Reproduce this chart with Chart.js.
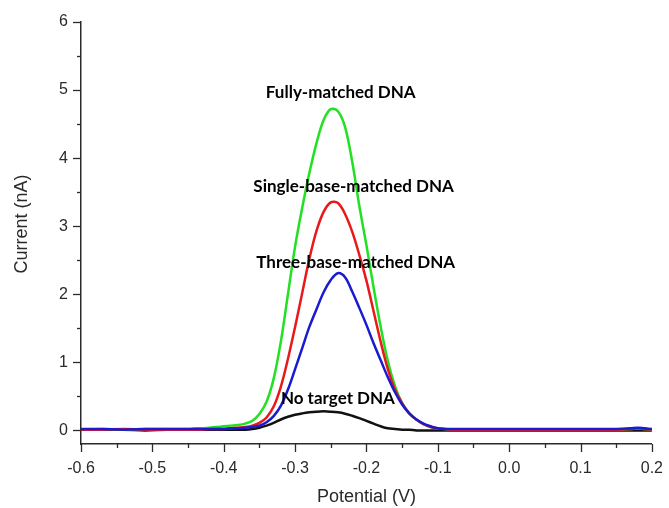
<!DOCTYPE html>
<html>
<head>
<meta charset="utf-8">
<script src="https://cdn.jsdelivr.net/npm/chart.js@4"></script>
<style>
html,body{margin:0;padding:0;background:#fff;}
#wrap{width:669px;height:508px;position:relative;}
</style>
</head>
<body>
<div id="wrap"><canvas id="c" width="669" height="508"></canvas></div>
<script>
// ---- data ----
const potential = [-0.60,-0.57,-0.54,-0.51,-0.48,
  -0.45,-0.44,-0.43,-0.42,-0.41,-0.40,-0.39,-0.38,-0.37,-0.36,-0.35,-0.34,-0.33,-0.32,-0.31,
  -0.30,-0.29,-0.28,-0.27,-0.26,-0.25,-0.24,-0.23,-0.22,-0.21,-0.20,-0.19,-0.18,-0.17,-0.16,
  -0.15,-0.14,-0.13,-0.12,-0.11,-0.10,-0.09,-0.08,
  -0.06,-0.03,0.00,0.04,0.08,0.12,0.15,0.17,0.18,0.19,0.20];

const fullyMatched = [0.01,0.02,0.01,0.02,0.02,
  0.02,0.03,0.03,0.04,0.05,0.06,0.07,0.08,0.10,0.14,0.24,0.42,0.76,1.30,2.00,
  2.70,3.27,3.78,4.22,4.56,4.72,4.69,4.46,3.95,3.30,2.72,2.10,1.52,1.02,0.65,
  0.40,0.25,0.16,0.09,0.05,0.03,0.02,0.01,
  0.01,0.01,0.01,0.01,0.01,0.01,0.01,0.02,0.03,0.02,0.01];

const singleBase = [0.01,0.01,0.02,0.01,0.01,
  0.01,0.01,0.01,0.02,0.02,0.02,0.03,0.04,0.05,0.07,0.11,0.19,0.35,0.64,1.05,
  1.52,2.02,2.52,2.93,3.21,3.35,3.34,3.18,2.92,2.58,2.20,1.75,1.30,0.90,0.60,
  0.40,0.25,0.16,0.09,0.05,0.03,0.02,0.01,
  0.01,0.01,0.01,0.01,0.01,0.01,0.01,0.02,0.03,0.02,0.01];

const threeBase = [0.02,0.02,0.01,0.02,0.02,
  0.02,0.02,0.02,0.02,0.02,0.02,0.03,0.03,0.04,0.05,0.07,0.12,0.21,0.36,0.60,
  0.90,1.21,1.52,1.78,2.03,2.21,2.31,2.25,2.04,1.80,1.55,1.28,1.03,0.78,0.56,
  0.38,0.25,0.16,0.10,0.06,0.03,0.02,0.02,
  0.02,0.02,0.02,0.02,0.02,0.02,0.02,0.03,0.04,0.03,0.02];

const noTarget = [0.01,0.01,0.01,0.00,0.01,
  0.01,0.01,0.01,0.01,0.01,0.01,0.01,0.01,0.01,0.02,0.04,0.07,0.11,0.16,0.20,
  0.23,0.25,0.265,0.275,0.28,0.275,0.265,0.245,0.215,0.18,0.14,0.10,0.06,0.03,0.02,
  0.01,0.01,0.00,0.00,0.00,0.00,0.00,0.00,
  0.00,0.00,0.00,0.00,0.00,0.00,0.00,0.00,0.00,0.00,0.00];

const seriesNames = ['Fully-matched DNA','Single-base-matched DNA','Three-base-matched DNA','No target DNA'];
// label anchor points in data units [potential, current]
const labelAnchorX = [-0.236,-0.218,-0.215,-0.240];
const labelAnchorY = [4.96,3.58,2.47,0.47];

const xTitle = 'Potential (V)';
const yTitle = 'Current (nA)';

// ---- chart ----
function pts(arr){ return potential.map((p,i)=>({x:p,y:arr[i]})); }

const AXIS_COLOR = '#2a2a2a';
const tickPlugin = {
  id:'customTicks',
  afterDraw(chart){
    const ctx = chart.ctx, xs = chart.scales.x, ys = chart.scales.y, a = chart.chartArea;
    ctx.save();
    ctx.strokeStyle = AXIS_COLOR; ctx.lineWidth = 1.3;
    for(let k=0;k<=16;k++){
      const v = -0.6 + k*0.05;
      const px = Math.round(xs.getPixelForValue(v))+0.5;
      const len = (k%2===0)?8:4;
      ctx.beginPath(); ctx.moveTo(px,a.bottom); ctx.lineTo(px,a.bottom+len); ctx.stroke();
    }
    for(let k=0;k<=12;k++){
      const v = k*0.5;
      const py = Math.round(ys.getPixelForValue(v))+0.5;
      const len = (k%2===0)?8:4;
      ctx.beginPath(); ctx.moveTo(a.left,py); ctx.lineTo(a.left-len,py); ctx.stroke();
    }
    // axis titles
    ctx.fillStyle = AXIS_COLOR;
    ctx.font = '18px "Liberation Sans", Arial, sans-serif';
    ctx.textAlign='center'; ctx.textBaseline='middle';
    ctx.fillText(xTitle, (a.left+a.right)/2, 497);
    ctx.save();
    ctx.translate(22, 224); ctx.rotate(-Math.PI/2);
    ctx.fillText(yTitle, 0, 0);
    ctx.restore();
    // curve labels
    ctx.fillStyle = '#000';
    ctx.font = 'bold 17px Lato, "Open Sans", sans-serif';
    for(let i=0;i<seriesNames.length;i++){
      ctx.fillText(seriesNames[i], xs.getPixelForValue(labelAnchorX[i]), ys.getPixelForValue(labelAnchorY[i]));
    }
    ctx.restore();
  }
};

Chart.defaults.font.family = '"Liberation Sans", Arial, sans-serif';
Chart.defaults.color = AXIS_COLOR;

new Chart(document.getElementById('c'), {
  type:'line',
  data:{
    datasets:[
      {label:seriesNames[3], data:pts(noTarget), borderColor:'#111111', order:3},
      {label:seriesNames[0], data:pts(fullyMatched), borderColor:'#22e022', order:2},
      {label:seriesNames[1], data:pts(singleBase), borderColor:'#e8191b', order:1},
      {label:seriesNames[2], data:pts(threeBase), borderColor:'#1a1ad0', order:0}
    ]
  },
  options:{
    responsive:false,
    animation:false,
    layout:{padding:{top:22,right:12,left:0,bottom:0}},
    elements:{
      line:{borderWidth:2.5, tension:0.35, fill:false},
      point:{radius:0, hoverRadius:0}
    },
    plugins:{legend:{display:false}, tooltip:{enabled:false}},
    scales:{
      x:{
        type:'linear', min:-0.6, max:0.2,
        ticks:{stepSize:0.1, includeBounds:false, font:{size:16}, color:AXIS_COLOR, padding:6, maxRotation:0,
          callback:(v)=>Number(v).toFixed(1)},
        grid:{drawOnChartArea:false, tickLength:9, tickColor:'rgba(0,0,0,0)'},
        border:{display:true, color:AXIS_COLOR, width:1.5},
        afterFit(s){ s.height = 64; }
      },
      y:{
        type:'linear', min:-0.2, max:6,
        ticks:{stepSize:1, includeBounds:false, font:{size:16}, color:AXIS_COLOR, padding:4,
          callback:(v)=>String(Math.round(v))},
        grid:{drawOnChartArea:false, tickLength:9, tickColor:'rgba(0,0,0,0)'},
        border:{display:true, color:AXIS_COLOR, width:1.5},
        afterFit(s){ s.width = 81; }
      }
    }
  },
  plugins:[tickPlugin]
});
</script>
</body>
</html>
